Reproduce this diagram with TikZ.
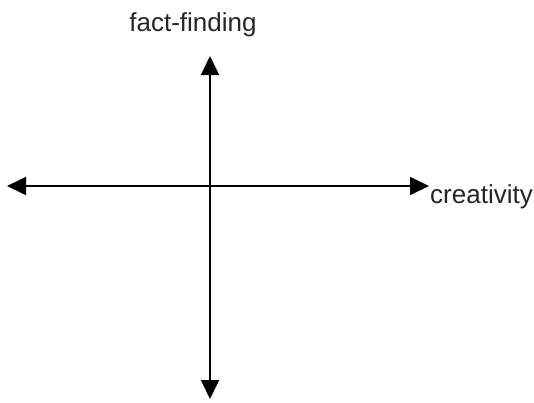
\documentclass[tikz,border=0pt]{standalone}
\usepackage{fontspec}
\setmainfont{Liberation Sans}
\usepackage{tikz}
\usetikzlibrary{arrows.meta, positioning}

\begin{document}
\begin{tikzpicture}[
        x=1pt, y=-1pt,
        axislabel/.style={inner sep=0pt, font=\fontsize{26}{31}\selectfont, color=black!85},
        axis/.style={draw, {Triangle[length=19pt, width=18pt]}-{Triangle[length=19pt, width=18pt]}, line width=1.6pt, color=black}
    ]

        \useasboundingbox (0,0) rectangle (534,402);

        % Extremos de los ejes
        \coordinate (top) at (210,56);
        \coordinate (bottom) at (210,399);
        \coordinate (left) at (7,186);
        \coordinate (right) at (429,186);

        % Ejes
        \draw [axis] (bottom) -- (top);
        \draw [axis] (left) -- (right);

        % Etiquetas
        \node [axislabel, anchor=base] (fact) at (193,31) {fact-finding};
        \node [axislabel, anchor=base west] (creat) at (430,203) {creativity};

    \end{tikzpicture}
\end{document}
